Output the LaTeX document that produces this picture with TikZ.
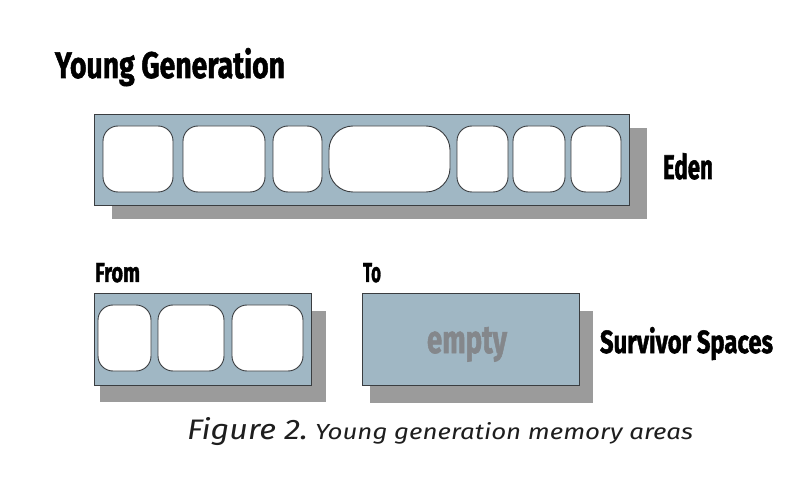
\documentclass[tikz,border=0pt]{standalone}
\usepackage{fontspec}
\setmainfont{Fira Sans}
\newfontfamily\heavyfont{Fira Sans}[BoldFeatures={FakeBold=1.6}]
\usepackage{graphicx}
\definecolor{areablue}{HTML}{A0B7C4}
\definecolor{shadowgray}{HTML}{9B9B9B}
\definecolor{edgegray}{HTML}{3A3D40}
\definecolor{emptygray}{HTML}{84878B}
\definecolor{capcol}{HTML}{1E1E1E}
\newcommand\fitbox[3]{\resizebox{#1pt}{#2pt}{#3}}
\begin{document}
\begin{tikzpicture}[x=1pt,y=-1pt,
  shadowbox/.style={fill=shadowgray,draw=none},
  areabox/.style={fill=areablue,draw=edgegray,line width=0.9pt},
  cellbox/.style={fill=white,draw=edgegray,line width=0.9pt,rounded corners=15pt},
  bigcell/.style={cellbox,rounded corners=24pt},
  lbl/.style={anchor=base west,inner sep=0pt,outer sep=0pt,font=\heavyfont\bfseries,text=black},
  capt/.style={anchor=base west,inner sep=0pt,outer sep=0pt,font=\itshape,text=capcol}]
\useasboundingbox (0,0) rectangle (812,481);
\fill[white] (0,0) rectangle (812,481);
% title
\node[lbl] (title) at (55,78) {\fitbox{230}{30}{Young Generation}};
% Eden
\path[shadowbox] (112,128) rectangle (647,219);
\path[areabox] (94,114) rectangle (629,205);
\path[cellbox] (103,126) rectangle (173,192);
\path[cellbox] (183,126) rectangle (265,192);
\path[cellbox] (273,126) rectangle (322,192);
\path[bigcell] (329,126) rectangle (450,192);
\path[cellbox] (457,126) rectangle (508,192);
\path[cellbox] (513,126) rectangle (565,192);
\path[cellbox] (571,126) rectangle (621,192);
\node[lbl] (eden) at (663,179) {\fitbox{50}{26}{Eden}};
% From
\node[lbl] (from) at (95,282) {\fitbox{45}{19}{From}};
\path[shadowbox] (100,311) rectangle (326,402);
\path[areabox] (94,293) rectangle (311,385);
\path[cellbox] (98,305) rectangle (151,371);
\path[cellbox] (158,305) rectangle (224,371);
\path[cellbox] (232,305) rectangle (303,371);
% To
\node[lbl] (to) at (363,282) {\fitbox{18}{19}{To}};
\path[shadowbox] (370,311) rectangle (593,403);
\path[areabox] (362,293) rectangle (579,385);
\node[lbl,text=emptygray] (empty) at (427,353) {\fitbox{80}{26}{empty}};
\node[lbl] (surv) at (600,353) {\fitbox{173}{26}{Survivor Spaces}};
% caption
\node[capt] (fig) at (187,439) {\fitbox{121}{22}{Figure 2.}};
\node[capt] (captext) at (315,439) {\fitbox{378}{17}{Young generation memory areas}};
\end{tikzpicture}
\end{document}
